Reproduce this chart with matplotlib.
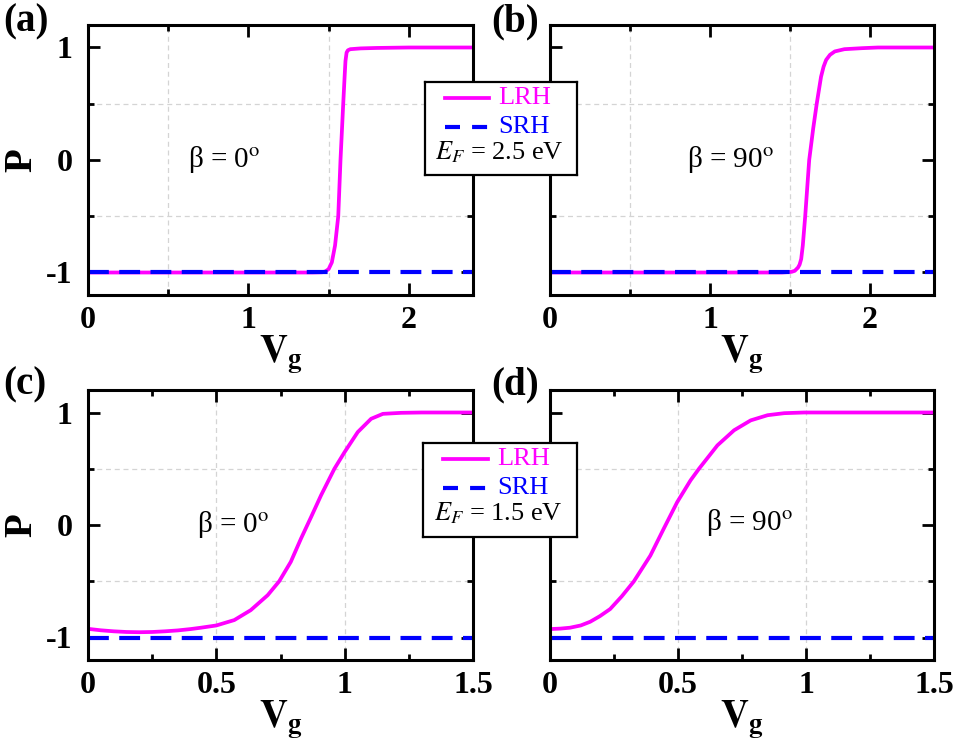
import numpy as np
import matplotlib
matplotlib.use('Agg')
import matplotlib.pyplot as plt
from matplotlib.ticker import MultipleLocator

plt.rcParams['font.family'] = 'Liberation Serif'
plt.rcParams['mathtext.fontset'] = 'stix'
plt.rcParams['axes.unicode_minus'] = False

# ---- data ----
# (a) E_F = 2.5 eV, beta = 0
vg_a = [0, 1.40, 1.46, 1.48, 1.50, 1.52, 1.54, 1.55, 1.56, 1.574, 1.591, 1.60,
        1.605, 1.612, 1.62, 1.635, 1.70, 1.80, 2.00, 2.40]
lrh_a = [-1, -1, -0.998, -0.99, -0.97, -0.91, -0.76, -0.63, -0.50, 0.0, 0.5, 0.75,
         0.88, 0.955, 0.975, 0.985, 0.992, 0.996, 1.0, 1.0]
# (b) E_F = 2.5 eV, beta = 90
vg_b = [0, 1.45, 1.51, 1.53, 1.55, 1.56, 1.57, 1.58, 1.595, 1.62, 1.645, 1.667,
        1.694, 1.71, 1.726, 1.75, 1.78, 1.84, 1.95, 2.05, 2.40]
lrh_b = [-1, -1, -0.994, -0.985, -0.956, -0.93, -0.88, -0.76, -0.5, 0.0, 0.28,
         0.5, 0.74, 0.83, 0.89, 0.935, 0.965, 0.985, 0.994, 1.0, 1.0]
# (c) E_F = 1.5 eV, beta = 0
vg_c = [0, 0.05, 0.1, 0.15, 0.2, 0.25, 0.3, 0.35, 0.4, 0.44, 0.5, 0.57, 0.634,
        0.70, 0.745, 0.79, 0.83, 0.869, 0.908, 0.96, 1.0, 1.051, 1.103, 1.149,
        1.22, 1.3, 1.5]
lrh_c = [-0.923, -0.936, -0.945, -0.951, -0.953, -0.951, -0.945, -0.937, -0.925,
         -0.913, -0.893, -0.845, -0.757, -0.624, -0.50, -0.328, -0.12, 0.07,
         0.264, 0.50, 0.649, 0.826, 0.944, 0.988, 0.997, 1.0, 1.0]
# (d) E_F = 1.5 eV, beta = 90
vg_d = [0, 0.04, 0.078, 0.12, 0.157, 0.195, 0.235, 0.28, 0.327, 0.392, 0.444,
        0.497, 0.549, 0.582, 0.654, 0.719, 0.784, 0.85, 0.915, 0.993, 1.5]
lrh_d = [-0.925, -0.921, -0.913, -0.893, -0.86, -0.81, -0.747, -0.635, -0.503,
         -0.272, -0.034, 0.204, 0.397, 0.50, 0.708, 0.842, 0.93, 0.976, 0.994,
         1.0, 1.0]
# SRH stays at -1
vg_srh_top = [0, 2.4]
vg_srh_bot = [0, 1.5]
srh = [-1, -1]

xticks_top = [0, 1, 2]
xticklabels_top = ['0', '1', '2']
xticks_bot = [0, 0.5, 1, 1.5]
xticklabels_bot = ['0', '0.5', '1', '1.5']
yticks = [-1, 0, 1]
yticklabels = ['-1', '0', '1']

panel_labels = ['(a)', '(b)', '(c)', '(d)']
beta_labels = ['β = 0$^{\\mathrm{o}}$', 'β = 90$^{\\mathrm{o}}$',
               'β = 0$^{\\mathrm{o}}$', 'β = 90$^{\\mathrm{o}}$']
ef_labels = ['$E_F$ = 2.5 eV', '$E_F$ = 1.5 eV']

MAG = '#ff00ff'
BLU = '#0000ff'
DASH = (5, 2.5)
GRID = dict(color='#d4d4d4', ls=(0, (4, 3)), lw=0.9)

fig = plt.figure(figsize=(9.56, 7.46), dpi=100)
W, H = 956.0, 746.0


def px_axes(l, t, r, b):
    return fig.add_axes([l / W, 1 - b / H, (r - l) / W, (b - t) / H])


ax_a = px_axes(88, 25, 473, 295)
ax_b = px_axes(550, 25, 934, 295)
ax_c = px_axes(88, 390, 473, 660)
ax_d = px_axes(550, 390, 934, 660)
axes = [ax_a, ax_b, ax_c, ax_d]

curves = [(vg_a, lrh_a, vg_srh_top), (vg_b, lrh_b, vg_srh_top),
          (vg_c, lrh_c, vg_srh_bot), (vg_d, lrh_d, vg_srh_bot)]
beta_pos = [(0.85, 0.0), (1.13, 0.0), (0.565, 0.0), (0.78, 0.02)]

for i, ax in enumerate(axes):
    x, y, xs = curves[i]
    top = i < 2
    ax.plot(x, y, color=MAG, lw=2.7, zorder=2, solid_joinstyle='round')
    ax.plot(xs, srh, color=BLU, lw=3.0, dashes=DASH, zorder=2.1)

    ax.set_ylim(-1.2, 1.2)
    ax.set_yticks(yticks)
    ax.yaxis.set_minor_locator(MultipleLocator(0.5))
    if top:
        ax.set_xlim(0, 2.4)
        ax.set_xticks(xticks_top)
        ax.set_xticklabels(xticklabels_top)
        ax.xaxis.set_minor_locator(MultipleLocator(0.5))
        ax.grid(which='minor', **GRID)
    else:
        ax.set_xlim(0, 1.5)
        ax.set_xticks(xticks_bot)
        ax.set_xticklabels(xticklabels_bot)
        ax.xaxis.set_minor_locator(MultipleLocator(0.25))
        ax.grid(which='major', axis='x', **GRID)
        ax.grid(which='minor', axis='y', **GRID)

    if i % 2 == 0:
        ax.set_yticklabels(yticklabels)
        ax.set_ylabel('P', fontsize=28, fontweight='bold')
        ax.yaxis.set_label_coords(-0.124, 0.5)
    else:
        ax.set_yticklabels([])

    ax.tick_params(which='both', direction='in', top=True, right=True, width=2)
    ax.tick_params(which='major', length=8.5)
    ax.tick_params(which='minor', length=4.5)
    ax.tick_params(axis='x', pad=8)
    ax.tick_params(axis='y', pad=11)
    for lab in ax.get_xticklabels() + ax.get_yticklabels():
        lab.set_fontsize(23)
        lab.set_fontweight('bold')
    for sp in ax.spines.values():
        sp.set_linewidth(2.2)

    ax.set_xlabel(r'$\mathbf{V_g}$', fontsize=28)
    ax.xaxis.set_label_coords(0.5, -0.145)
    bx, by = beta_pos[i]
    ax.text(bx, by, beta_labels[i], fontsize=21, ha='center', va='center')

# panel labels
fig.text(3 / W, 1 - 3 / H, panel_labels[0], fontsize=28, fontweight='bold', va='top')
fig.text(491 / W, 1 - 3 / H, panel_labels[1], fontsize=28, fontweight='bold', va='top')
fig.text(3 / W, 1 - 366 / H, panel_labels[2], fontsize=28, fontweight='bold', va='top')
fig.text(491 / W, 1 - 366 / H, panel_labels[3], fontsize=28, fontweight='bold', va='top')

# legend boxes drawn between the panels
for (l, t, r, b), ef in zip([(425, 82, 577, 175), (423, 443, 577, 537)], ef_labels):
    lax = px_axes(l, t, r, b)
    lax.set_xlim(0, 1)
    lax.set_ylim(0, 1)
    lax.set_xticks([])
    lax.set_yticks([])
    for sp in lax.spines.values():
        sp.set_linewidth(1.6)
    lax.plot([0.13, 0.42], [0.83, 0.83], color=MAG, lw=2.7)
    lax.plot([0.13, 0.42], [0.52, 0.52], color=BLU, lw=3.0, dashes=(3.6, 2.9))
    lax.text(0.48, 0.83, 'LRH', color=MAG, fontsize=19, va='center')
    lax.text(0.48, 0.52, 'SRH', color=BLU, fontsize=19, va='center')
    lax.text(0.49, 0.25, ef, color='black', fontsize=19, va='center', ha='center')

fig.savefig('out.png', dpi=100)
